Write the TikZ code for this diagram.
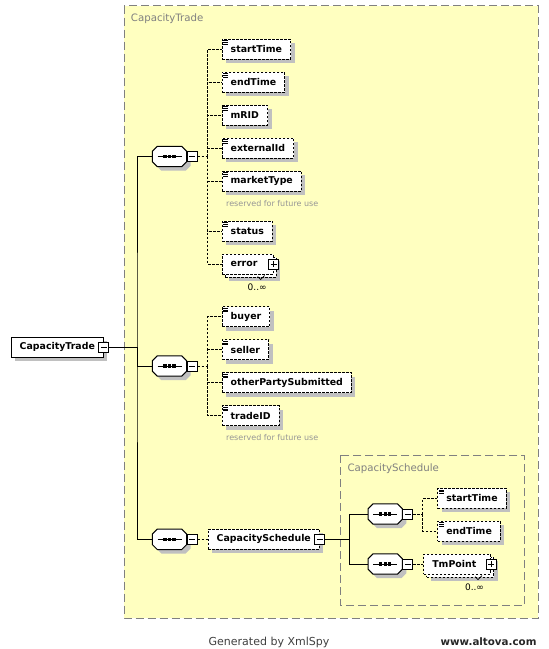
\documentclass[tikz,border=0pt]{standalone}
\usepackage{fontspec}
\setmainfont{DejaVu Sans}
\usetikzlibrary{positioning,shadows}
\definecolor{paleyellow}{RGB}{255,255,192}
\definecolor{framegray}{RGB}{128,128,128}
\definecolor{notegray}{RGB}{150,150,150}
\definecolor{shadowgray}{RGB}{192,192,192}
\definecolor{footgray}{RGB}{64,64,64}
\newcommand{\namefont}{\fontsize{9.4}{11}\selectfont\bfseries}
\newcommand{\titlefont}{\fontsize{10.2}{12}\selectfont}
% octagon of a compositor, #1 node, #2 offset
\newcommand{\seqoutline}[2]{([shift={(#2+5,#2)}]#1.north west) -- ([shift={(#2-5,#2)}]#1.north east)
  -- ([shift={(#2,#2+5)}]#1.north east) -- ([shift={(#2,#2-5)}]#1.south east)
  -- ([shift={(#2-5,#2)}]#1.south east) -- ([shift={(#2+5,#2)}]#1.south west)
  -- ([shift={(#2,#2-5)}]#1.south west) -- ([shift={(#2,#2+5)}]#1.north west) -- cycle}
\tikzset{
  shade4/.style={drop shadow={shadow xshift=4pt,shadow yshift=-4pt,fill=shadowgray,opacity=1}},
  elem/.style={draw,line width=1pt,dash pattern=on 2.5pt off 1.5pt,fill=white,font=\namefont,
    inner xsep=8.5pt,inner ysep=0pt,minimum height=20pt,anchor=west},
  stackbox/.style={elem,text width=#1,align=left},
  simple/.style={path picture={\foreach \k in {1.6,3.4,5.2}
      \draw[solid,line width=0.8pt] ([xshift=1.2pt,yshift=-\k pt]path picture bounding box.north west) -- ++(5,0);}},
  xbox/.style={draw,solid,line width=1pt,fill=white,minimum size=10pt,inner sep=0pt},
  minus/.style={xbox,path picture={\draw[line width=1pt] ([xshift=2pt]path picture bounding box.west) -- ([xshift=-2pt]path picture bounding box.east);}},
  plus/.style={xbox,path picture={\draw[line width=1pt] ([xshift=2pt]path picture bounding box.west) -- ([xshift=-2pt]path picture bounding box.east)
      ([yshift=-2pt]path picture bounding box.north) -- ([yshift=2pt]path picture bounding box.south);}},
  seq/.style={inner sep=0pt,minimum width=34pt,minimum height=20pt},
  trunk/.style={line width=1pt},
  branch/.style={line width=1pt,dash pattern=on 2.5pt off 1.5pt},
  container/.style={draw=framegray,line width=1pt,dash pattern=on 8pt off 4pt,fill=paleyellow},
  title/.style={anchor=west,text=framegray,font=\titlefont,inner sep=0pt},
  note/.style={anchor=west,text=notegray,font=\fontsize{8}{9}\selectfont,inner sep=0pt},
  occ/.style={font=\fontsize{9}{10}\selectfont,inner sep=0pt},
}

\begin{document}
\begin{tikzpicture}[x=1pt,y=-1pt]
\useasboundingbox[fill=white] (0,0) rectangle (549,649);
\draw[container] (124,5.5) rectangle (538,618);
\node[title] (tradeT) at (130.7,19) {CapacityTrade};
\draw[container] (340.7,455) rectangle (524.3,605.7);
\node[title] (schedT) at (347.3,469) {CapacitySchedule};

% root element
\node[elem,solid,shade4] (root) at (10.7,347) {CapacityTrade};
\node[minus] (rootX) at (root.east) {};

% compositors
\node[seq] (seqA) at (169.5,156.5) {};
\node[seq] (seqB) at (169.5,366) {};
\node[seq] (seqC) at (169.5,539.3) {};
\node[seq] (seqD) at (385.2,514) {};
\node[seq] (seqE) at (385.2,564) {};
\foreach \s in {seqA,seqB,seqC,seqD,seqE}{
  \fill[shadowgray] \seqoutline{\s}{4};
  \draw[line width=1pt,fill=white] \seqoutline{\s}{0};
  \draw[line width=1pt] ([xshift=-12pt]\s.center) -- ([xshift=12pt]\s.center);
  \foreach \d in {-4.5,0,4.5}
    \fill ([xshift=\d pt]\s.center) +(-1.6,-1.6) rectangle +(1.6,1.6);
}
\node[minus,right=0pt of seqA] (seqAX) {};
\node[minus,right=0pt of seqB] (seqBX) {};
\node[minus,right=0pt of seqC] (seqCX) {};
\node[minus,right=0pt of seqD] (seqDX) {};
\node[minus,right=0pt of seqE] (seqEX) {};

\coordinate (fork) at (137,347);
\draw[trunk] (rootX.east) -- (fork);
\draw[trunk] (seqA.west) -| (fork) |- (seqC.west);
\draw[trunk] (fork) |- (seqB.west);

% first sequence
\foreach \nm/\txt/\yy in {startA/startTime/49,endA/endTime/82,mridA/mRID/115,extA/externalId/148,mktA/marketType/181,statA/status/231}
  \node[elem,simple,shade4] (\nm) at (221.7,\yy) {\txt};
\node[note] (mktNote) at ([shift={(4.3,12)}]mktA.south west) {reserved for future use};
\node[stackbox=34pt,shade4] (errorB) at (224.7,267) {};
\node[stackbox=34pt,anchor=center] (error) at ([shift={(-3,-3)}]errorB.center) {error};
\node[plus] (errorX) at (error.east) {};
\draw[line width=0.7pt] ([shift={(-19,-1)}]errorB.south east) -- ++(3,3) -- ++(4,-4);
\node[occ] (errorN) at ([shift={(-19.5,10)}]errorB.south east) {0..∞};

\draw[branch] (seqAX.east) -- ++(10,0) coordinate (forkA);
\foreach \nm in {startA,endA,mridA,extA,mktA,statA,error}
  \draw[branch] (forkA) |- (\nm.west);

% second sequence
\foreach \nm/\txt/\yy in {buyerB/buyer/316.5,sellerB/seller/349.5,otherB/otherPartySubmitted/382.5,tradeB/tradeID/415.5}
  \node[elem,simple,shade4] (\nm) at (221.7,\yy) {\txt};
\node[note] (tradeNote) at ([shift={(4.3,12)}]tradeB.south west) {reserved for future use};
\draw[branch] (seqBX.east) -- ++(10,0) coordinate (forkB);
\foreach \nm in {buyerB,sellerB,otherB,tradeB}
  \draw[branch] (forkB) |- (\nm.west);

% third sequence
\node[elem,shade4] (sched) at (207.7,539.3) {CapacitySchedule};
\node[minus] (schedX) at (sched.east) {};
\draw[branch] (seqCX.east) -- (sched.west);

\draw[trunk] (schedX.east) -- ++(24,0) coordinate (forkS);
\draw[trunk] (forkS) |- (seqD.west);
\draw[trunk] (forkS) |- (seqE.west);

\node[elem,simple,shade4] (startS) at (437.3,498.3) {startTime};
\node[elem,simple,shade4] (endS) at (437.3,531) {endTime};
\draw[branch] (seqDX.east) -- ++(9.5,0) coordinate (forkD);
\draw[branch] (forkD) |- (startS.west);
\draw[branch] (forkD) |- (endS.west);

\node[stackbox=49.7pt,shade4] (tmB) at (426.3,567) {};
\node[stackbox=49.7pt,anchor=center] (tm) at ([shift={(-3,-3)}]tmB.center) {TmPoint};
\node[plus] (tmX) at (tm.east) {};
\draw[line width=0.7pt] ([shift={(-19,-1)}]tmB.south east) -- ++(3,3) -- ++(4,-4);
\node[occ] (tmN) at ([shift={(-19.5,10)}]tmB.south east) {0..∞};
\draw[branch] (seqEX.east) -- (tm.west);

% footer
\node[text=footgray,font=\fontsize{11}{12}\selectfont] (gen) at (269,642) {Generated by XmlSpy};
\node[anchor=east,text=black!85,font=\fontsize{10.3}{12}\selectfont\bfseries] (alt) at (540,642) {www.altova.com};
\end{tikzpicture}
\end{document}
